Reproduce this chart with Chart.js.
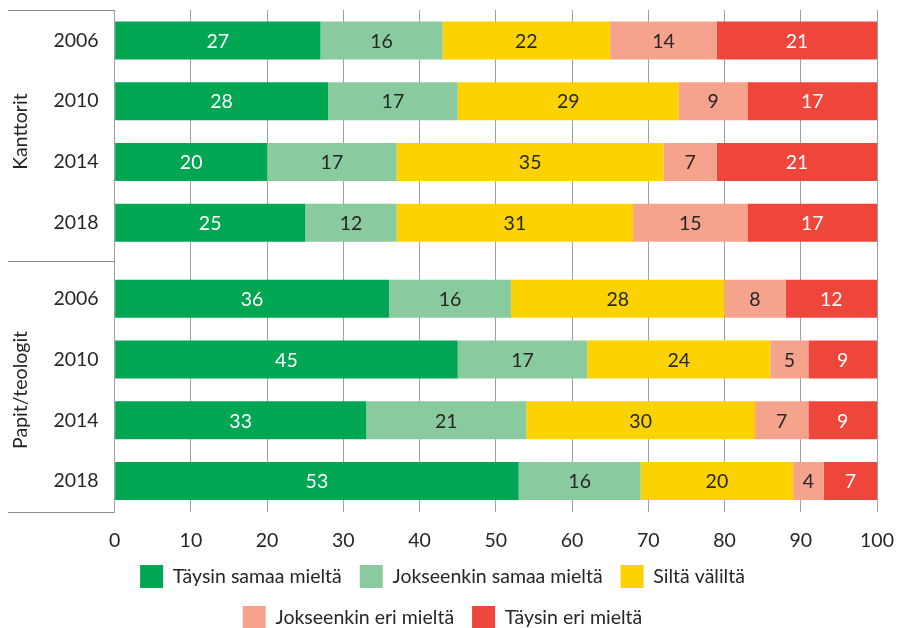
<!DOCTYPE html>
<html>
<head>
<meta charset="utf-8">
<script src="https://cdn.jsdelivr.net/npm/chart.js@4"></script>
<style>
  body { margin: 0; background: #fff; }
</style>
</head>
<body>
<canvas id="surveyChart" width="897" height="628"></canvas>
<script>
const years = ['2006', '2010', '2014', '2018'];
const groupNames = ['Kanttorit', 'Papit/teologit'];
const seriesNames = ['Täysin samaa mieltä', 'Jokseenkin samaa mieltä', 'Siltä väliltä', 'Jokseenkin eri mieltä', 'Täysin eri mieltä'];

// one row per answer, one value (%) per survey year
const kanttorit = [
  [27, 28, 20, 25],
  [16, 17, 17, 12],
  [22, 29, 35, 31],
  [14, 9, 7, 15],
  [21, 17, 21, 17]
];
const papit = [
  [36, 45, 33, 53],
  [16, 17, 21, 16],
  [28, 24, 30, 20],
  [8, 5, 7, 4],
  [12, 9, 9, 7]
];

const seriesColors = ['#00a651', '#89cb9e', '#fcd200', '#f6a38e', '#ef463c'];
const valueColors = ['#ffffff', '#262626', '#262626', '#262626', '#ffffff'];

const textColor = '#262626';
const gridColor = '#a0a0a0';
const fontFamily = 'Lato, "Open Sans", sans-serif';
const fontSize = 19.5;
Chart.defaults.font.family = fontFamily;
Chart.defaults.font.size = fontSize;
Chart.defaults.color = textColor;

const datasets = [];
[kanttorit, papit].forEach((group, g) => {
  group.forEach((values, i) => {
    datasets.push({
      label: seriesNames[i],
      data: values,
      yAxisID: g === 0 ? 'yK' : 'yP',
      backgroundColor: seriesColors[i],
      valueColor: valueColors[i],
      borderWidth: 0,
      grouped: false,
      categoryPercentage: 1,
      barPercentage: 0.625
    });
  });
});

// numbers written in the middle of each segment
const barValueLabels = {
  id: 'barValueLabels',
  afterDatasetsDraw(chart) {
    const ctx = chart.ctx;
    ctx.save();
    ctx.font = fontSize + 'px ' + fontFamily;
    ctx.textAlign = 'center';
    ctx.textBaseline = 'middle';
    chart.data.datasets.forEach((ds, di) => {
      const meta = chart.getDatasetMeta(di);
      if (meta.hidden) return;
      meta.data.forEach((bar, j) => {
        const p = bar.getCenterPoint();
        ctx.fillStyle = ds.valueColor;
        ctx.fillText(ds.data[j], p.x, p.y + 1);
      });
    });
    ctx.restore();
  }
};

// horizontal rules that box in the group labels on the left
const groupDividers = {
  id: 'groupDividers',
  afterDraw(chart) {
    const { yK, yP } = chart.scales;
    const ctx = chart.ctx;
    const ys = [yK.top, (yK.bottom + yP.top) / 2, yP.bottom];
    ctx.save();
    ctx.strokeStyle = '#8c8c8c';
    ctx.lineWidth = 1;
    ctx.beginPath();
    ys.forEach(y => {
      const yy = Math.round(y) + 0.5;
      ctx.moveTo(yK.left, yy);
      ctx.lineTo(chart.chartArea.left, yy);
    });
    ctx.stroke();
    ctx.restore();
  }
};

const groupAxis = (name) => ({
  type: 'category',
  labels: years,
  position: 'left',
  stack: 'rows',
  stackWeight: 4,
  stacked: true,
  offset: true,
  grid: { display: false, drawTicks: false },
  border: { display: false },
  ticks: { padding: 16, color: textColor, font: { size: fontSize } },
  title: {
    display: true,
    text: name,
    color: textColor,
    font: { size: fontSize },
    padding: { top: 1, bottom: 5 }
  },
  // the labels sit inside the bands, so no extra room above/below is needed
  afterFit(scale) {
    scale.paddingTop = 0;
    scale.paddingBottom = 0;
  }
});

new Chart(document.getElementById('surveyChart'), {
  type: 'bar',
  data: { labels: years, datasets: datasets },
  plugins: [barValueLabels, groupDividers],
  options: {
    indexAxis: 'y',
    responsive: false,
    animation: false,
    layout: { padding: { top: 10, left: 8, right: 20, bottom: -11 } },
    scales: {
      x: {
        stacked: true,
        min: 0,
        max: 100,
        ticks: { stepSize: 10, padding: 18, color: textColor, font: { size: fontSize } },
        grid: { color: gridColor, lineWidth: 1, drawTicks: false },
        border: { display: false },
        // fixed band under the plot; side room comes from layout padding
        afterFit(scale) {
          scale.height = 16 + fontSize;
          scale.paddingLeft = 0;
          scale.paddingRight = 0;
        }
      },
      // left-hand boxes are laid out in reverse, so the lower group comes first
      yP: groupAxis(groupNames[1]),
      gap: {
        type: 'category',
        labels: [''],
        position: 'left',
        stack: 'rows',
        stackWeight: 0.25,
        grid: { display: false, drawTicks: false },
        border: { display: false },
        ticks: { display: false }
      },
      yK: groupAxis(groupNames[0])
    },
    plugins: {
      legend: {
        position: 'bottom',
        labels: {
          boxWidth: 23,
          boxHeight: 23,
          padding: 18,
          color: textColor,
          font: { size: fontSize },
          filter: item => item.datasetIndex < seriesNames.length
        }
      },
      tooltip: { enabled: false }
    }
  }
});
</script>
</body>
</html>
